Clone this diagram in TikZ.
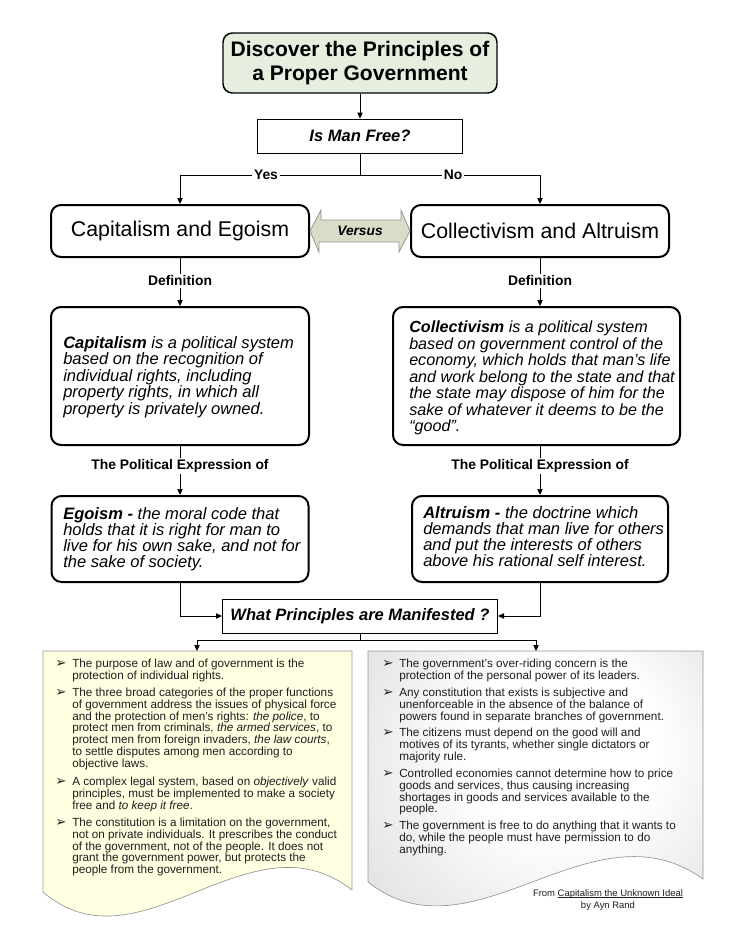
\documentclass[tikz,border=0pt]{standalone}
\usepackage{fontspec}
\setmainfont{Liberation Sans}
\newfontfamily\dejavu{DejaVu Sans}
\usetikzlibrary{arrows.meta,calc}
\definecolor{titlefill}{RGB}{230,238,224}
\definecolor{vsfill}{RGB}{216,220,200}
\definecolor{ydoc}{RGB}{255,255,225}
\definecolor{docline}{RGB}{150,150,150}
\definecolor{txt}{RGB}{30,30,30}
\pgfdeclareradialshading{docshade}{\pgfpoint{5bp}{12bp}}{color(0bp)=(white); color(14bp)=(white); color(48bp)=(black!19); color(75bp)=(black!24)}
\newcommand\ptext[1]{\parbox[t]{260pt}{\raggedright #1}}
\newcommand\bitem[1]{\makebox[12.75pt][l]{\dejavu\fontsize{10pt}{10pt}\selectfont ➢}\parbox[t]{260pt}{\raggedright #1}}
\newcommand\myul[1]{{\setbox0\hbox{#1}\rlap{\rule[-1.1pt]{\wd0}{0.35pt}}\box0}}
\tikzset{
 bigbox/.style={draw, line width=1.5pt, rounded corners=7.5pt, inner sep=0pt},
 plainbox/.style={draw, line width=0.75pt, inner sep=0pt},
 conn/.style={line width=0.75pt},
 arr/.style={conn, -{Triangle[length=4.5pt,width=4pt]}},
 lbl/.style={fill=white, inner sep=1.5pt, font=\bfseries\fontsize{10.4pt}{12pt}\selectfont},
 deftext/.style={anchor=base west, inner sep=0pt, font=\itshape\fontsize{12.4pt}{12.4pt}\selectfont},
 egotext/.style={anchor=base west, inner sep=0pt, font=\itshape\fontsize{12.4pt}{12pt}\selectfont},
 bullet/.style={anchor=base west, inner sep=0pt, text=txt, font=\fontsize{8.8pt}{8.85pt}\selectfont},
 srctext/.style={inner sep=0pt, text=txt, anchor=base, font=\fontsize{7.1pt}{9pt}\selectfont},
}
\begin{document}
\begin{tikzpicture}[x=0.75pt,y=-0.75pt]
\useasboundingbox (0,0) rectangle (728,942);

% documents
\path[draw=docline, fill=ydoc, line width=0.5pt] (43,651) -- (352,651) -- (352,890) .. controls (250,810) and (140,975) .. (43,892) -- cycle;
\path[draw=docline, shading=docshade, line width=0.5pt] (368,651) -- (703,651) -- (703,879) .. controls (592,799) and (473,965) .. (368,882) -- cycle;

% boxes
\node[draw, line width=1.1pt, rounded corners=7pt, fill=titlefill, minimum width=205.5pt, minimum height=45pt, inner sep=0pt, align=center, font=\bfseries\fontsize{15.8pt}{18.5pt}\selectfont] (title) at (360,63) {Discover the Principles of\\a Proper Government};
\node[plainbox, minimum width=153.75pt, minimum height=25.5pt, font=\bfseries\itshape\fontsize{12.4pt}{14pt}\selectfont] (q) at (360,136) {Is Man Free?};
\node[bigbox, minimum width=193.5pt, minimum height=39pt, font=\fontsize{16pt}{18pt}\selectfont] (cap) at (180,231) {Capitalism and Egoism};
\node[bigbox, minimum width=193.5pt, minimum height=39pt, font=\fontsize{16pt}{18pt}\selectfont] (col) at (540,231) {Collectivism and Altruism};
\node[bigbox, minimum width=193.5pt, minimum height=103.5pt] (capdef) at (180,376) {};
\node[bigbox, minimum width=215.25pt, minimum height=103.5pt] (coldef) at (536.5,376) {};
\node[bigbox, minimum width=192.75pt, minimum height=64.5pt] (ego) at (180,539) {};
\node[bigbox, minimum width=192pt, minimum height=64.5pt] (alt) at (540,539) {};
\node[plainbox, fill=white, minimum width=206.25pt, minimum height=25.5pt, font=\bfseries\itshape\fontsize{12.4pt}{14pt}\selectfont] (what) at (360,616) {What Principles are Manifested ?};

% versus double arrow
\path[draw=docline, fill=vsfill, line width=0.6pt] (cap.east) -- ++(11,-21) -- ++(0,10) -- ++(80,0) -- ++(0,-10) -- (col.west) -- ++(-11,21) -- ++(0,-10) -- ++(-80,0) -- ++(0,10) -- cycle;
\node[font=\bfseries\itshape\fontsize{10.3pt}{12pt}\selectfont] (vs) at (360,231) {Versus};

% connectors
\coordinate (split) at (360,175);
\coordinate (split2) at (360,640);
\coordinate (ldtop) at (197,651);
\coordinate (rdtop) at (536,651);
\draw[arr] (title.south) -- (q.north);
\draw[arr] (q.south) |- (split) -| (cap.north);
\draw[arr] (split) -| (col.north);
\draw[arr] (cap.south) -- (capdef.north);
\draw[arr] (col.south) -- (col.south |- coldef.north);
\draw[arr] (capdef.south) -- (ego.north);
\draw[arr] (coldef.south -| alt.north) -- (alt.north);
\draw[arr] (ego.south) |- (what.west);
\draw[arr] (alt.south) |- (what.east);
\draw[arr] (what.south) |- (split2) -| (ldtop);
\draw[arr] (split2) -| (rdtop);

% labels
\node[lbl] (yes) at (266,175) {Yes};
\node[lbl] (no) at (453,175) {No};
\node[lbl] (def1) at (180,281) {Definition};
\node[lbl] (def2) at (540,281) {Definition};
\node[lbl] (pe1) at (180,466) {The Political Expression of};
\node[lbl] (pe2) at (540,466) {The Political Expression of};

% definition texts
\node[deftext] (capdeft) at (63,348) {\ptext{\textbf{Capitalism} is a political system\\based on the recognition of\\individual rights, including\\property rights, in which all\\property is privately owned.}};
\node[deftext, font=\itshape\fontsize{12.1pt}{12.4pt}\selectfont] (coldeft) at (409,332.5) {\ptext{\textbf{Collectivism} is a political system\\based on government control of the\\economy, which holds that man’s life\\and work belong to the state and that\\the state may dispose of him for the\\sake of whatever it deems to be the\\“good”.}};
\node[egotext] (egot) at (63,519) {\ptext{\textbf{Egoism -} the moral code that\\holds that it is right for man to\\live for his own sake, and not for\\the sake of society.}};
\node[egotext] (altt) at (423,518) {\ptext{\textbf{Altruism -} the doctrine which\\demands that man live for others\\and put the interests of others\\above his rational self interest.}};

% left document bullets
\node[bullet] (l1) at (55,667.5) {\bitem{The purpose of law and of government is the\\protection of individual rights.}};
\node[bullet] (l2) at (55,696.5) {\bitem{The three broad categories of the proper functions\\of government address the issues of physical force\\and the protection of men’s rights: \textit{the police}, to\\protect men from criminals, \textit{the armed services}, to\\protect men from foreign invaders, \textit{the law courts},\\to settle disputes among men according to\\objective laws.}};
\node[bullet] (l3) at (55,785.5) {\bitem{A complex legal system, based on \textit{objectively} valid\\principles, must be implemented to make a society\\free and \textit{to keep it free}.}};
\node[bullet] (l4) at (55,826.5) {\bitem{The constitution is a limitation on the government,\\not on private individuals. It prescribes the conduct\\of the government, not of the people. It does not\\grant the government power, but protects the\\people from the government.}};

% right document bullets
\node[bullet] (r1) at (382,667.5) {\bitem{The government’s over-riding concern is the\\protection of the personal power of its leaders.}};
\node[bullet] (r2) at (382,696.5) {\bitem{Any constitution that exists is subjective and\\unenforceable in the absence of the balance of\\powers found in separate branches of government.}};
\node[bullet] (r3) at (382,736.5) {\bitem{The citizens must depend on the good will and\\motives of its tyrants, whether single dictators or\\majority rule.}};
\node[bullet] (r4) at (382,777.5) {\bitem{Controlled economies cannot determine how to price\\goods and services, thus causing increasing\\shortages in goods and services available to the\\people.}};
\node[bullet] (r5) at (382,829.5) {\bitem{The government is free to do anything that it wants to\\do, while the people must have permission to do\\anything.}};

% source
\node[srctext] (src1) at (608,896) {From \myul{Capitalism the Unknown Ideal}};
\node[srctext] (src2) at (608,908) {by Ayn Rand};
\end{tikzpicture}
\end{document}
